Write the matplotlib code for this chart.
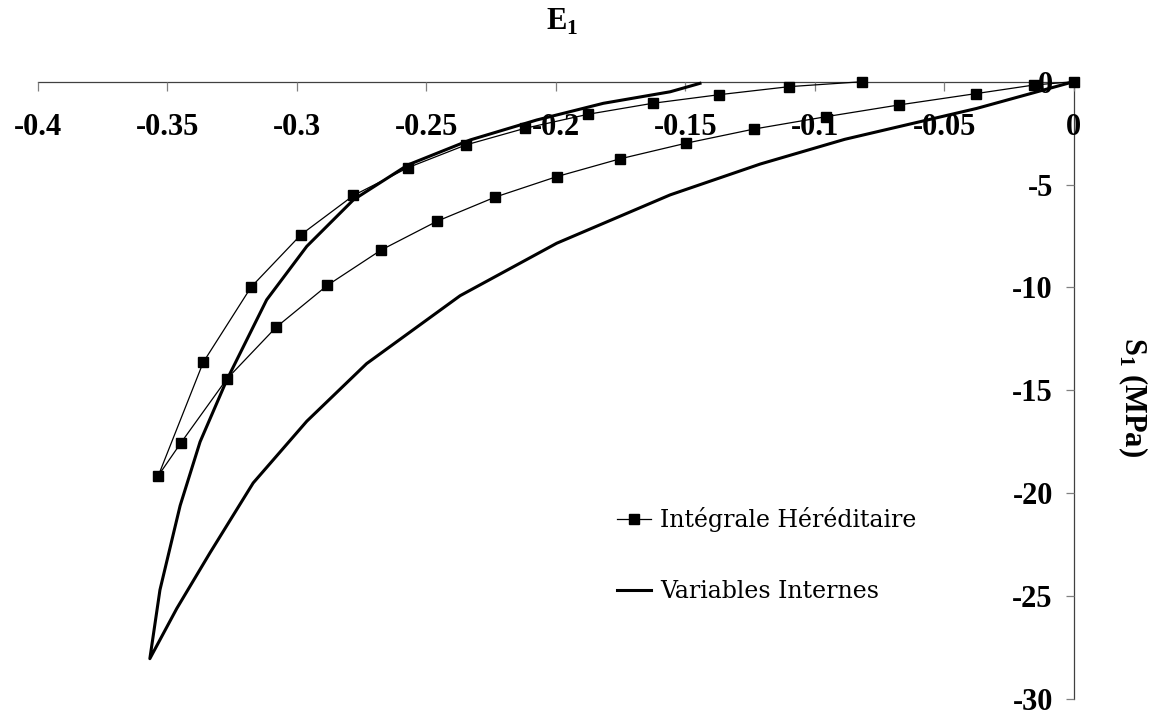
import matplotlib
matplotlib.use("Agg")
import matplotlib.pyplot as plt

# Intégrale Héréditaire (loading then unloading)
ih_strain = [0, -0.0153, -0.0378, -0.0675, -0.0956, -0.1234, -0.1497, -0.1752,
             -0.1995, -0.2234, -0.2458, -0.2674, -0.2882, -0.3080, -0.3270,
             -0.3447, -0.3534, -0.3361, -0.3176, -0.2983, -0.2781, -0.2569,
             -0.2346, -0.2117, -0.1874, -0.1626, -0.1368, -0.1098, -0.0816]
ih_stress = [0, -0.16, -0.58, -1.13, -1.70, -2.30, -2.99, -3.75,
             -4.61, -5.61, -6.78, -8.18, -9.90, -11.94, -14.45,
             -17.55, -19.14, -13.64, -9.98, -7.43, -5.53, -4.17,
             -3.07, -2.26, -1.58, -1.05, -0.63, -0.24, 0.0]

# Variables Internes (loading then unloading)
vi_strain = [0, -0.0375, -0.0884, -0.121, -0.1558, -0.1996, -0.2369, -0.273,
             -0.2961, -0.3168, -0.3335, -0.3463, -0.3567, -0.3528, -0.345,
             -0.3373, -0.327, -0.3116, -0.2961, -0.2781, -0.257, -0.233,
             -0.2073, -0.1816, -0.1558, -0.1443]
vi_stress = [0, -1.3, -2.8, -4.0, -5.5, -7.85, -10.4, -13.7,
             -16.5, -19.5, -22.9, -25.6, -28.04, -24.7, -20.6,
             -17.5, -14.5, -10.6, -8.0, -5.74, -4.04, -2.83,
             -1.86, -1.05, -0.49, -0.08]

x_ticks = [-0.4, -0.35, -0.3, -0.25, -0.2, -0.15, -0.1, -0.05, 0]
x_tick_labels = ["-0.4", "-0.35", "-0.3", "-0.25", "-0.2", "-0.15", "-0.1", "-0.05", "0"]
y_ticks = [0, -5, -10, -15, -20, -25, -30]
y_tick_labels = ["0", "-5", "-10", "-15", "-20", "-25", "-30"]

plt.rcParams['mathtext.fontset'] = 'custom'
plt.rcParams['mathtext.rm'] = 'Liberation Serif:bold'

W, H = 1157, 716
fig = plt.figure(figsize=(W / 100, H / 100), dpi=100)
ax = fig.add_axes([37.7 / W, 1 - 699 / H, (1073.7 - 37.7) / W, (699 - 81.7) / H])

ax.plot(ih_strain, ih_stress, color='black', lw=0.9, marker='s', ms=6.5,
        mfc='black', mec='black', clip_on=False, zorder=3,
        label='Intégrale Héréditaire')
ax.plot(vi_strain, vi_stress, color='black', lw=2.2, clip_on=False, zorder=2,
        solid_joinstyle='round', label='Variables Internes')

ax.set_xlim(-0.4, 0)
ax.set_ylim(-30, 0)

for s in ['top', 'right']:
    ax.spines[s].set_visible(False)
ax.spines['bottom'].set_position(('data', 0))
ax.spines['left'].set_position(('data', 0))
for s in ['bottom', 'left']:
    ax.spines[s].set_color('#404040')
    ax.spines[s].set_linewidth(0.9)
    ax.spines[s].set_zorder(1)

tick_font = dict(family='Liberation Serif', weight='bold', size=22)
ax.set_xticks(x_ticks)
ax.set_xticklabels(x_tick_labels, fontdict=tick_font)
ax.set_yticks(y_ticks)
ax.set_yticklabels(y_tick_labels, fontdict=tick_font)
ax.tick_params(axis='x', direction='out', length=6.5, width=0.9, color='#808080', pad=16)
ax.tick_params(axis='y', direction='out', length=6, width=0.9, color='#808080', pad=9)
ax.patch.set_visible(False)

fig.text(562 / W, 1 - 22 / H, r'E$_\mathregular{1}$', ha='center', va='center',
         family='Liberation Serif', weight='bold', size=22)
fig.text(1133 / W, 1 - 397 / H, r'S$_\mathregular{1}$ (MPa)', ha='center', va='center',
         rotation=270, family='Liberation Serif', weight='bold', size=22)

leg = ax.legend(loc='upper left', bbox_to_anchor=(617 / W, 1 - 507 / H),
                bbox_transform=fig.transFigure, frameon=False,
                prop=dict(family='DejaVu Serif', size=17),
                handlelength=1.44, handletextpad=0.38, labelspacing=2.03,
                borderpad=0, borderaxespad=0)

fig.savefig('out.png', dpi=100)
